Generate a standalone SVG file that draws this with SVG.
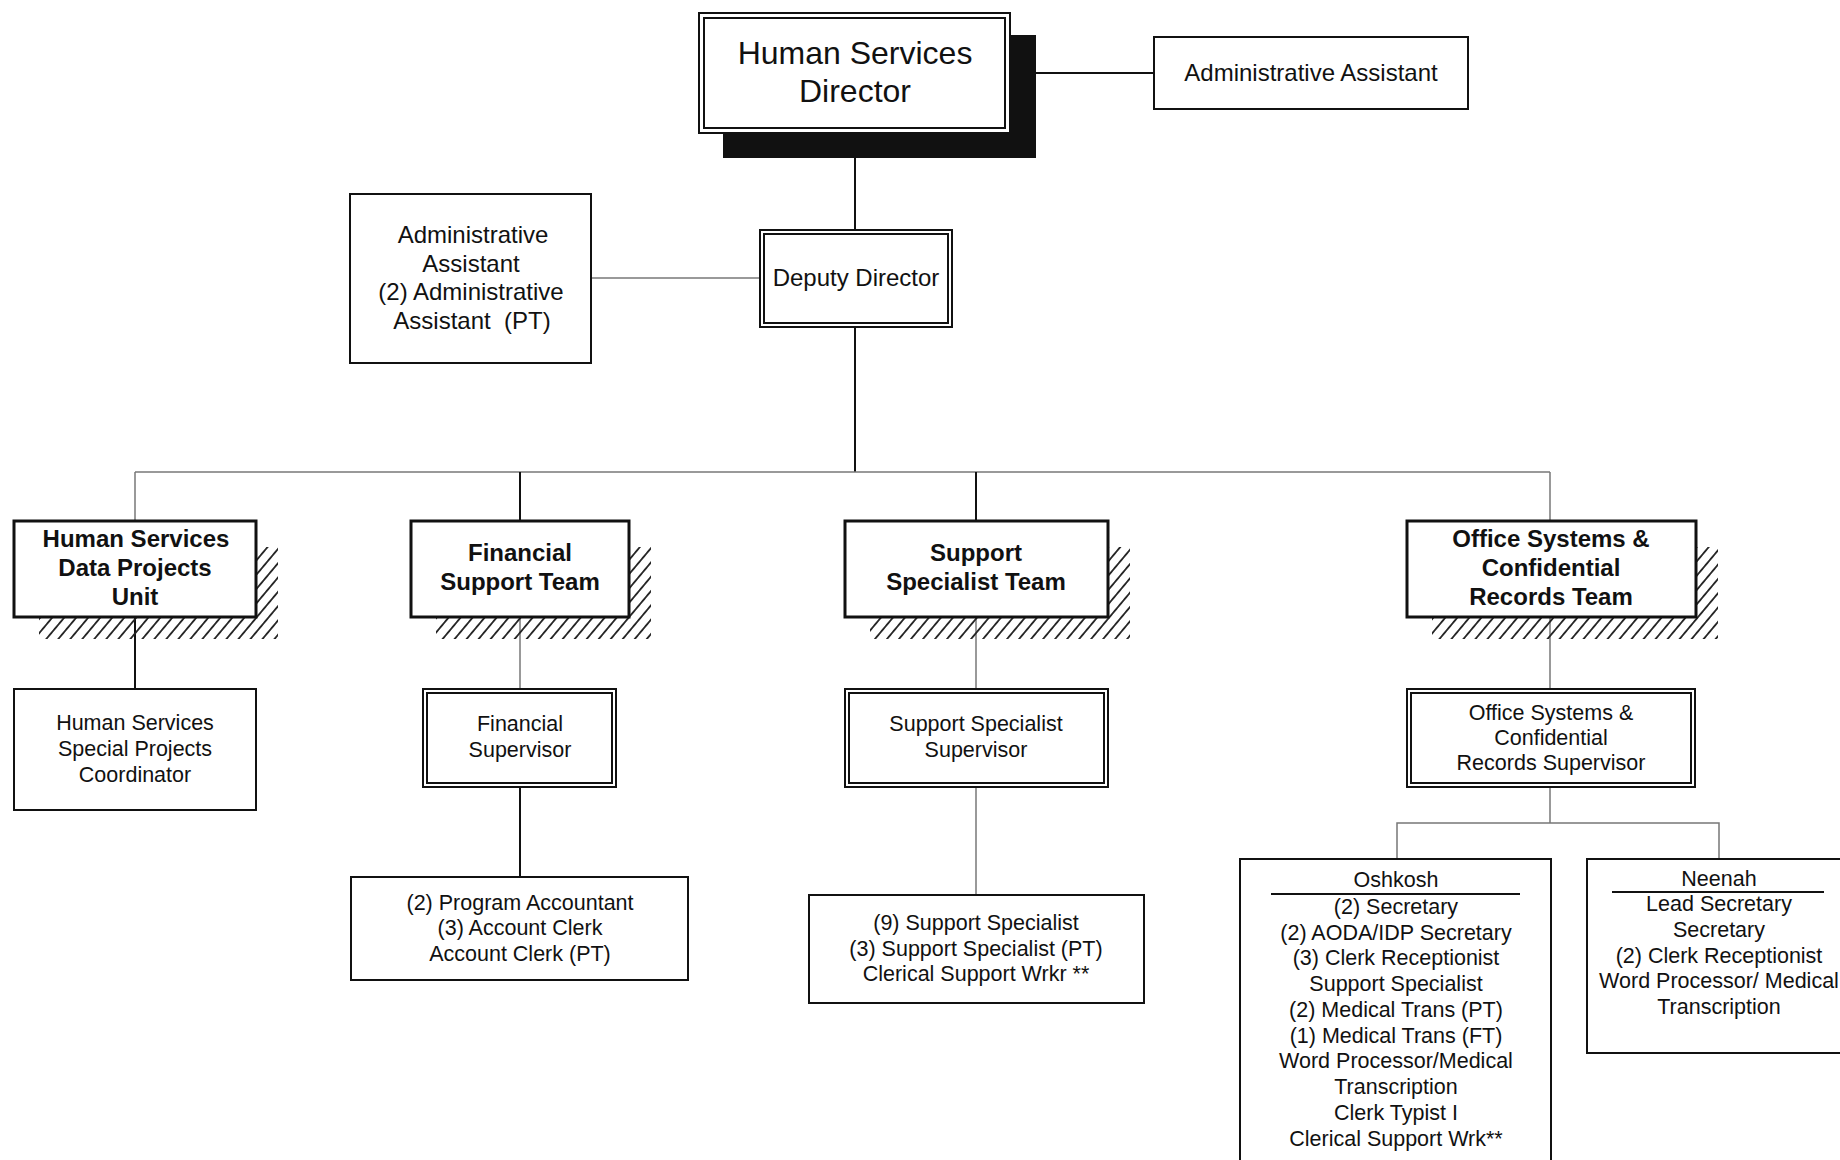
<svg xmlns="http://www.w3.org/2000/svg" width="1840" height="1160" viewBox="0 0 1840 1160">
<defs>
<pattern id="hatch" width="9.2" height="10" patternUnits="userSpaceOnUse" patternTransform="rotate(40)">
<line x1="4.6" y1="-1" x2="4.6" y2="11" stroke="#222" stroke-width="1.8"/>
</pattern>
</defs>
<style>
.box{fill:#fff;stroke:#111;stroke-width:2}
.team{fill:#fff;stroke:#111;stroke-width:3}
.hatch{fill:url(#hatch);stroke:none}
.dark{stroke:#111;stroke-width:2;fill:none}
.grey{stroke:#777;stroke-width:1.5;fill:none}
.ul{stroke:#111;stroke-width:2}
text{font-family:"Liberation Sans",Arial,Helvetica,sans-serif;fill:#111;text-anchor:middle}
.t32{font-size:32px}
.t24{font-size:24px}
.b24{font-size:24px;font-weight:bold}
.t21{font-size:21.5px}
</style>
<rect width="1840" height="1160" fill="#fff"/>
<g id="connectors">
<line class="dark" x1="1036" y1="73" x2="1154" y2="73"/>
<line class="dark" x1="855" y1="158" x2="855" y2="230"/>
<line class="grey" x1="591" y1="278" x2="760" y2="278"/>
<line class="dark" x1="855" y1="327" x2="855" y2="472"/>
<line class="grey" x1="135" y1="472" x2="1550" y2="472"/>
<line class="grey" x1="135" y1="472" x2="135" y2="521"/>
<line class="dark" x1="520" y1="472" x2="520" y2="521"/>
<line class="dark" x1="976" y1="472" x2="976" y2="521"/>
<line class="grey" x1="1550" y1="472" x2="1550" y2="521"/>
<line class="dark" x1="135" y1="617" x2="135" y2="689"/>
<line class="grey" x1="520" y1="617" x2="520" y2="689"/>
<line class="dark" x1="520" y1="787" x2="520" y2="877"/>
<line class="grey" x1="976" y1="617" x2="976" y2="689"/>
<line class="grey" x1="976" y1="787" x2="976" y2="895"/>
<line class="grey" x1="1550" y1="617" x2="1550" y2="689"/>
<line class="grey" x1="1550" y1="787" x2="1550" y2="823"/>
<polyline class="grey" points="1397,859 1397,823 1719,823 1719,859"/>
</g>
<g id="director">
<rect x="723" y="35" width="313" height="123" fill="#111"/>
<rect class="box" x="699" y="13" width="311" height="120" stroke-width="1.8"/>
<rect class="box" x="704" y="18" width="301" height="110" stroke-width="1.8"/>
<text class="t32" x="855" y="64">Human Services</text>
<text class="t32" x="855" y="102">Director</text>
</g>
<g id="admin-assistant-top">
<rect class="box" x="1154" y="37" width="314" height="72"/>
<text class="t24" x="1311" y="81">Administrative Assistant</text>
</g>
<g id="admin-assistant-left">
<rect class="box" x="350" y="194" width="241" height="169"/>
<text class="t24" x="473" y="243">Administrative</text>
<text class="t24" x="471" y="271.5">Assistant</text>
<text class="t24" x="471" y="300">(2) Administrative</text>
<text class="t24" x="472" y="328.5">Assistant&#160; (PT)</text>
</g>
<g id="deputy-director">
<rect class="box" x="760" y="230" width="192" height="97"/>
<rect class="box" x="764" y="234" width="184" height="89"/>
<text class="t24" x="856" y="286">Deputy Director</text>
</g>
<g id="hs-data-projects">
<path class="hatch" d="M257,547 H278 V639 H39 V618 H257 Z"/>
<rect class="team" x="14" y="521" width="242" height="96"/>
<text class="b24" x="136" y="547">Human Services</text>
<text class="b24" x="135" y="576">Data Projects</text>
<text class="b24" x="135" y="605">Unit</text>
</g>
<g id="financial-team">
<path class="hatch" d="M630,547 H651 V639 H436 V618 H630 Z"/>
<rect class="team" x="411" y="521" width="218" height="96"/>
<text class="b24" x="520" y="561">Financial</text>
<text class="b24" x="520" y="590">Support Team</text>
</g>
<g id="support-team">
<path class="hatch" d="M1109,547 H1130 V639 H870 V618 H1109 Z"/>
<rect class="team" x="845" y="521" width="263" height="96"/>
<text class="b24" x="976" y="561">Support</text>
<text class="b24" x="976" y="590">Specialist Team</text>
</g>
<g id="office-team">
<path class="hatch" d="M1697,547 H1718 V639 H1432 V618 H1697 Z"/>
<rect class="team" x="1407" y="521" width="289" height="96"/>
<text class="b24" x="1551" y="547">Office Systems &amp;</text>
<text class="b24" x="1551" y="576">Confidential</text>
<text class="b24" x="1551" y="605">Records Team</text>
</g>
<g id="special-projects-coordinator">
<rect class="box" x="14" y="689" width="242" height="121"/>
<text class="t21" x="135" y="730">Human Services</text>
<text class="t21" x="135" y="756">Special Projects</text>
<text class="t21" x="135" y="782">Coordinator</text>
</g>
<g id="financial-supervisor">
<rect class="box" x="423" y="689" width="193" height="98"/>
<rect class="box" x="427" y="693" width="185" height="90"/>
<text class="t21" x="520" y="731">Financial</text>
<text class="t21" x="520" y="757">Supervisor</text>
</g>
<g id="financial-staff">
<rect class="box" x="351" y="877" width="337" height="103"/>
<text class="t21" x="520" y="910">(2) Program Accountant</text>
<text class="t21" x="520" y="935">(3) Account Clerk</text>
<text class="t21" x="520" y="961">Account Clerk (PT)</text>
</g>
<g id="support-supervisor">
<rect class="box" x="845" y="689" width="263" height="98"/>
<rect class="box" x="849" y="693" width="255" height="90"/>
<text class="t21" x="976" y="731">Support Specialist</text>
<text class="t21" x="976" y="757">Supervisor</text>
</g>
<g id="support-staff">
<rect class="box" x="809" y="895" width="335" height="108"/>
<text class="t21" x="976" y="930">(9) Support Specialist</text>
<text class="t21" x="976" y="956">(3) Support Specialist (PT)</text>
<text class="t21" x="976" y="981">Clerical Support Wrkr **</text>
</g>
<g id="office-supervisor">
<rect class="box" x="1407" y="689" width="288" height="98"/>
<rect class="box" x="1411" y="693" width="280" height="90"/>
<text class="t21" x="1551" y="720">Office Systems &amp;</text>
<text class="t21" x="1551" y="745">Confidential</text>
<text class="t21" x="1551" y="770">Records Supervisor</text>
</g>
<g id="oshkosh">
<rect class="box" x="1240" y="859" width="311" height="330"/>
<text class="t21" x="1396" y="887">Oshkosh</text>
<line class="ul" x1="1271" y1="894" x2="1520" y2="894"/>
<text class="t21" x="1396" y="914">(2) Secretary</text>
<text class="t21" x="1396" y="940">(2) AODA/IDP Secretary</text>
<text class="t21" x="1396" y="965">(3) Clerk Receptionist</text>
<text class="t21" x="1396" y="991">Support Specialist</text>
<text class="t21" x="1396" y="1017">(2) Medical Trans (PT)</text>
<text class="t21" x="1396" y="1043">(1) Medical Trans (FT)</text>
<text class="t21" x="1396" y="1068">Word Processor/Medical</text>
<text class="t21" x="1396" y="1094">Transcription</text>
<text class="t21" x="1396" y="1120">Clerk Typist I</text>
<text class="t21" x="1396" y="1146">Clerical Support Wrk**</text>
</g>
<g id="neenah">
<rect class="box" x="1587" y="859" width="280" height="194"/>
<text class="t21" x="1719" y="886">Neenah</text>
<line class="ul" x1="1612" y1="892" x2="1824" y2="892"/>
<text class="t21" x="1719" y="911">Lead Secretary</text>
<text class="t21" x="1719" y="937">Secretary</text>
<text class="t21" x="1719" y="963">(2) Clerk Receptionist</text>
<text class="t21" x="1719" y="988">Word Processor/ Medical</text>
<text class="t21" x="1719" y="1014">Transcription</text>
</g>
</svg>
